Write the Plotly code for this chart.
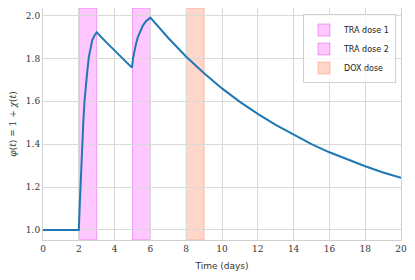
import plotly.graph_objects as go

# Time (days) and phi(t) = 1 + chi(t)
t = [0, 1, 2, 2.05, 2.09, 2.14, 2.19, 2.25, 2.32, 2.38, 2.45, 2.56, 2.65, 2.75, 2.87, 3.0,
     3.5, 4.0, 4.5, 4.97, 5.03, 5.11, 5.2, 5.3, 5.44, 5.58, 5.75, 5.9, 6.0,
     7, 8, 9, 10, 11, 12, 13, 14, 15, 16, 17, 18, 19, 20]
phi = [1.0, 1.0, 1.0, 1.11, 1.20, 1.30, 1.40, 1.50, 1.60, 1.665, 1.72, 1.806, 1.85, 1.884, 1.906, 1.922,
       1.878, 1.836, 1.795, 1.757, 1.80, 1.837, 1.87, 1.899, 1.93, 1.953, 1.973, 1.985, 1.99,
       1.895, 1.808, 1.731, 1.660, 1.597, 1.541, 1.490, 1.443, 1.400, 1.362, 1.328, 1.297, 1.268, 1.243]

doses = [("TRA dose 1", 2, 3, "rgba(255,0,255,0.22)", "rgba(200,0,200,0.3)"),
         ("TRA dose 2", 5, 6, "rgba(255,0,255,0.22)", "rgba(200,0,200,0.3)"),
         ("DOX dose", 8, 9, "rgba(255,127,80,0.32)", "rgba(230,100,60,0.3)")]

x_ticks = [0, 2, 4, 6, 8, 10, 12, 14, 16, 18, 20]
y_ticks = [1.0, 1.2, 1.4, 1.6, 1.8, 2.0]

fig = go.Figure()
for name, a, b, fc, lc in doses:
    fig.add_vrect(x0=a, x1=b, fillcolor=fc, line=dict(color=lc, width=1),
                  layer="below", name=name, showlegend=True)

fig.add_trace(go.Scatter(x=t, y=phi, mode="lines", line=dict(color="#1f77b4", width=2),
                         showlegend=False))

serif = "DejaVu Serif"
fig.update_layout(
    width=407, height=272,
    margin=dict(l=35, r=14, t=0, b=40),
    plot_bgcolor="white", paper_bgcolor="white",
    font=dict(family=serif, size=9, color="#333"),
    legend=dict(x=0.986, y=0.972, xanchor="right", yanchor="top",
                bgcolor="rgba(255,255,255,0.8)", bordercolor="#d0d0d0", borderwidth=1,
                font=dict(family="DejaVu Sans", size=8, color="#222"),
                itemwidth=30, tracegroupgap=0),
    xaxis=dict(range=[0, 20], tickvals=x_ticks, ticktext=[str(v) for v in x_ticks],
               showgrid=True, gridcolor="#d9d9d9", gridwidth=1, zeroline=False,
               showline=True, linecolor="#d0d0d0", mirror=True, ticks="", automargin=False,
               tickfont=dict(family=serif, size=9, color="#333"),
               title=dict(text="Time (days)", font=dict(family="DejaVu Sans", size=9, color="#333"),
                          standoff=9)),
    yaxis=dict(range=[0.953, 2.035], tickvals=y_ticks, ticktext=[f"{v:.1f}" for v in y_ticks],
               showgrid=True, gridcolor="#d9d9d9", gridwidth=1, zeroline=False,
               showline=True, linecolor="#d0d0d0", mirror=True, ticks="", automargin=False,
               tickfont=dict(family=serif, size=9, color="#333"),
               title=dict(text="<i>φ</i>(<i>t</i>) = 1 + <i>χ</i>(<i>t</i>)",
                          font=dict(family=serif, size=9, color="#333"), standoff=8)),
)

fig.write_html("out.html")
